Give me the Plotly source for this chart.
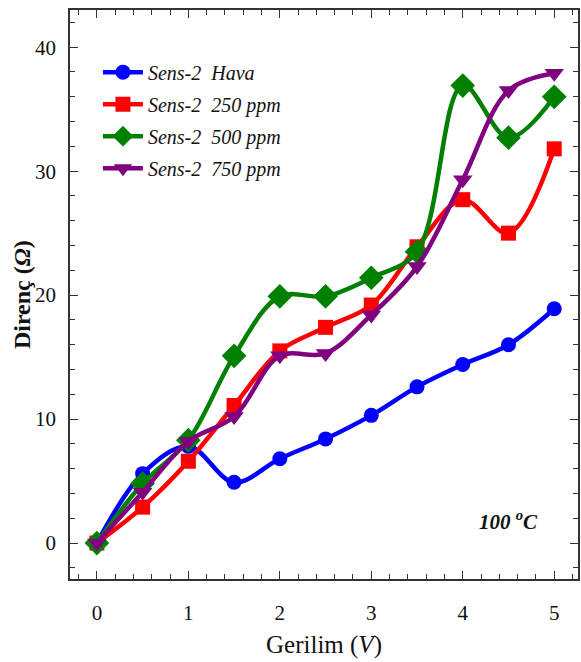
import plotly.graph_objects as go

# Applied voltage (V)
voltage = [0, 0.5, 1.0, 1.5, 2.0, 2.5, 3.0, 3.5, 4.0, 4.5, 5.0]

# Resistance (Ohm) of Sens-2 at 100 °C
hava = [0, 5.6, 7.8, 4.9, 6.8, 8.4, 10.3, 12.6, 14.4, 16.0, 18.9]
ppm_250 = [0, 2.9, 6.6, 11.1, 15.5, 17.4, 19.2, 23.9, 27.7, 25.0, 31.8]
ppm_500 = [0, 4.8, 8.3, 15.1, 19.9, 19.9, 21.4, 23.5, 36.9, 32.7, 36.0]
ppm_750 = [0, 4.1, 8.2, 10.2, 15.1, 15.3, 18.4, 22.3, 29.3, 36.5, 37.9]

series_names = ["Sens-2\u00a0\u00a0Hava", "Sens-2\u00a0\u00a0250 ppm",
                "Sens-2\u00a0\u00a0500 ppm", "Sens-2\u00a0\u00a0750 ppm"]
series_values = [hava, ppm_250, ppm_500, ppm_750]
colors = ["#0000FF", "#FF0000", "#008000", "#800080"]
symbols = ["circle", "square", "diamond", "triangle-down"]
sizes = [15, 15, 19, 17]

SERIF = "Liberation Serif, Times New Roman, serif"

fig = go.Figure()
for i, (name, vals, c, sym, sz) in enumerate(zip(series_names, series_values, colors, symbols, sizes)):
    fig.add_trace(go.Scatter(
        x=voltage, y=vals, name=f"<i>{name}</i>",
        legendgroup=f"g{i}",
        mode="lines+markers",
        line=dict(color=c, width=4.5, shape="spline", smoothing=1.0),
        marker=dict(symbol=sym, size=sz, color=c),
    ))

axis_common = dict(
    showline=True, linecolor="#333333", linewidth=1.5, mirror="allticks",
    ticks="inside", ticklen=8, tickwidth=1.2, tickcolor="#333333",
    showgrid=False, zeroline=False,
    tickfont=dict(family=SERIF, size=21, color="#111111"),
)

fig.update_xaxes(
    range=[-0.294, 5.26], tickvals=[0, 1, 2, 3, 4, 5],
    minor=dict(ticks="inside", ticklen=5, dtick=0.2, tick0=0, tickcolor="#333333", tickwidth=1),
    ticklabelstandoff=14,
    title=dict(text="Gerilim (<i>V</i>)", font=dict(family=SERIF, size=25, color="#111111"), standoff=12),
    **axis_common,
)
fig.update_yaxes(
    range=[-2.9, 43.0], tickvals=[0, 10, 20, 30, 40],
    minor=dict(ticks="inside", ticklen=5, dtick=2, tick0=0, tickcolor="#333333", tickwidth=1),
    ticklabelstandoff=8,
    **axis_common,
)

# y-axis title placed as a rotated annotation left of the tick labels
fig.add_annotation(
    xref="paper", yref="y", x=0, y=20, xshift=-48, showarrow=False,
    xanchor="center", yanchor="middle",
    textangle=-90, text="<b>Direnç (<i>Ω</i>)</b>",
    font=dict(family=SERIF, size=24, color="#111111"),
)

fig.add_annotation(
    x=4.5, y=1.85, xref="x", yref="y", showarrow=False,
    text="<b><i>100 <sup>o</sup>C</i></b>",
    font=dict(family=SERIF, size=21, color="#111111"),
)

fig.update_layout(
    width=581, height=662,
    margin=dict(l=70, r=1, t=10, b=83),
    paper_bgcolor="white", plot_bgcolor="white",
    showlegend=True,
    legend=dict(
        x=0.055, y=0.925, xanchor="left", yanchor="top",
        bgcolor="rgba(0,0,0,0)", borderwidth=0,
        font=dict(family=SERIF, size=20, color="#111111"),
        tracegroupgap=3, itemwidth=40,
    ),
)

fig.write_html("out.html")
